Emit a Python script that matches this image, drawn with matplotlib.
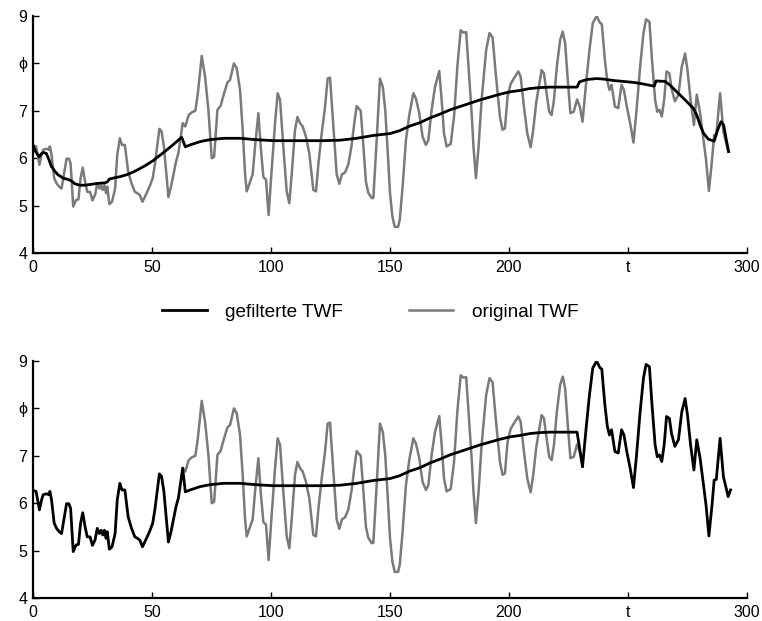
import numpy as np
import matplotlib
matplotlib.use('Agg')
import matplotlib.pyplot as plt

plt.rcParams['font.family'] = ['Liberation Sans', 'DejaVu Sans']

# original TWF (t, phi)
t_orig = np.array([
    0.0, 1.3, 2.7, 3.6, 4.3, 5.7, 6.6, 7.1, 7.8, 8.9, 9.9, 11.0, 12.0, 13.4, 14.1,
    15.1, 15.8, 16.9, 18.1, 19.1, 20.0, 20.9, 21.9, 22.8, 24.0, 25.0, 26.1, 27.0,
    27.9, 28.6, 29.3, 30.0, 30.7, 31.2, 32.1, 33.2, 34.5, 35.4, 36.5, 37.4, 38.6,
    40.0, 41.4, 42.8, 43.9, 44.9, 46.0, 47.7, 49.2, 50.3, 51.2, 53.1, 54.0, 55.0,
    56.9, 58.0, 59.0, 60.1, 61.1, 61.8, 62.9, 64.0, 65.4, 66.8, 68.2, 69.2, 70.9,
    72.3, 73.7, 75.1, 76.1, 77.5, 78.8, 80.3, 81.7, 82.8, 84.4, 85.6, 87.0, 88.1,
    89.1, 89.8, 91.2, 92.3, 93.4, 94.7, 95.7, 96.8, 97.9, 99.0, 100.0, 101.7,
    102.8, 103.8, 105.2, 106.6, 107.7, 108.7, 110.1, 111.1, 112.2, 113.3, 114.7,
    116.1, 117.8, 118.9, 119.9, 121.3, 122.7, 123.8, 124.8, 126.2, 127.6, 128.7,
    129.8, 131.1, 132.5, 133.9, 135.0, 136.0, 137.7, 138.8, 139.9, 140.9, 142.3,
    143.0, 144.4, 145.8, 147.0, 148.0, 149.0, 150.0, 151.0, 152.0, 153.4, 154.1,
    155.3, 156.7, 158.1, 159.8, 160.9, 162.3, 163.7, 165.1, 166.1, 167.5, 168.9,
    170.7, 171.7, 172.7, 173.8, 175.5, 176.9, 178.3, 179.7, 180.8, 182.0, 183.0,
    184.4, 185.1, 186.1, 187.2, 188.5, 190.4, 191.8, 193.1, 194.5, 196.2, 197.3,
    198.3, 199.4, 200.7, 202.5, 203.9, 204.9, 206.3, 207.7, 209.1, 210.2, 211.4,
    212.3, 213.7, 214.7, 215.8, 216.9, 217.9, 218.9, 220.1, 221.5, 222.6, 223.6,
    224.6, 225.8, 227.2, 228.6, 229.8, 230.9, 232.4, 233.8, 235.2, 236.8, 238.2,
    239.0, 240.3, 241.3, 242.2, 243.1, 244.5, 245.9, 247.3, 248.3, 249.5, 250.9,
    252.3, 253.6, 255.1, 256.5, 257.6, 259.0, 260.1, 261.4, 262.3, 263.2, 264.2,
    265.2, 266.2, 267.4, 268.3, 269.7, 271.2, 272.6, 274.0, 275.0, 276.3, 277.7,
    278.9, 280.3, 281.4, 282.8, 284.0, 285.3, 286.2, 287.1, 288.7, 290.1, 292.1,
    293.1])
v_orig = np.array([
    6.27, 6.25, 5.86, 6.07, 6.18, 6.20, 6.18, 6.25, 6.07, 5.58, 5.47, 5.40, 5.36,
    5.78, 5.99, 5.99, 5.89, 4.98, 5.12, 5.13, 5.58, 5.80, 5.50, 5.29, 5.29, 5.11,
    5.23, 5.47, 5.36, 5.43, 5.33, 5.43, 5.26, 5.40, 5.03, 5.08, 5.36, 6.07, 6.42,
    6.28, 6.28, 5.71, 5.47, 5.29, 5.26, 5.22, 5.08, 5.26, 5.43, 5.58, 5.86, 6.62,
    6.57, 6.25, 5.18, 5.40, 5.65, 5.93, 6.11, 6.36, 6.74, 6.67, 6.91, 6.97, 7.00,
    7.34, 8.16, 7.72, 7.02, 6.00, 6.03, 7.02, 7.10, 7.37, 7.60, 7.65, 8.00, 7.90,
    7.44, 6.60, 5.67, 5.30, 5.50, 5.66, 6.30, 6.95, 6.23, 5.60, 5.55, 4.80, 5.55,
    6.74, 7.37, 7.23, 6.23, 5.30, 5.05, 5.66, 6.60, 6.87, 6.74, 6.67, 6.45, 6.10,
    5.33, 5.30, 5.87, 6.52, 7.08, 7.68, 7.70, 6.67, 5.66, 5.46, 5.66, 5.70, 5.87,
    6.28, 6.74, 7.10, 7.00, 6.27, 5.50, 5.27, 5.16, 5.16, 6.38, 7.68, 7.50, 7.02,
    6.17, 5.27, 4.77, 4.55, 4.55, 4.70, 5.40, 6.38, 6.91, 7.37, 7.26, 6.95, 6.45,
    6.28, 6.38, 7.02, 7.50, 7.84, 7.23, 6.52, 6.25, 6.30, 6.87, 7.93, 8.70, 8.65,
    8.66, 7.93, 6.87, 6.23, 5.58, 6.23, 7.23, 8.28, 8.64, 8.55, 7.75, 6.87, 6.60,
    6.63, 7.30, 7.57, 7.72, 7.83, 7.72, 7.08, 6.52, 6.23, 6.60, 7.16, 7.44, 7.86,
    7.79, 7.37, 6.98, 6.91, 7.23, 7.93, 8.50, 8.67, 8.42, 7.72, 6.95, 6.98, 7.24,
    7.08, 6.77, 7.58, 8.28, 8.85, 9.00, 8.86, 8.83, 8.07, 7.63, 7.44, 7.55, 7.09,
    7.06, 7.55, 7.44, 7.09, 6.74, 6.33, 7.02, 7.93, 8.64, 8.93, 8.88, 8.07, 7.23,
    6.98, 7.02, 6.88, 7.23, 7.83, 7.79, 7.47, 7.20, 7.34, 7.93, 8.21, 7.86, 7.23,
    6.70, 7.34, 6.95, 6.52, 5.96, 5.31, 5.96, 6.49, 6.50, 7.37, 6.56, 6.14, 6.28])

# filtered TWF
t_filt = np.array([
    0.1, 1.2, 2.6, 3.6, 4.5, 5.6, 6.7, 7.7, 9.1, 10.5, 12.7, 14.8, 16.2, 17.6,
    19.7, 21.8, 24.6, 27.5, 30.3, 31.2, 32.1, 33.7, 36.5, 39.3, 42.2, 44.9, 47.7,
    50.5, 53.3, 56.1, 59.0, 61.5, 62.5, 64.0, 66.0, 70.2, 74.2, 80.0, 87.0, 94.0,
    101.0, 108.0, 115.0, 122.0, 129.0, 136.0, 143.0, 150.0, 154.0, 158.4, 162.6,
    166.8, 171.0, 175.2, 179.4, 183.6, 187.8, 192.0, 196.2, 200.4, 204.6, 208.8,
    213.0, 217.2, 221.4, 225.6, 228.6, 229.6, 232.6, 236.8, 239.6, 243.8, 248.0,
    252.3, 256.0, 261.0, 261.8, 265.6, 267.7, 270.5, 274.0, 277.5, 278.9, 280.3,
    281.7, 283.8, 286.2, 287.7, 289.1, 290.2, 291.3, 292.3])
v_filt = np.array([
    6.26, 6.13, 6.03, 6.10, 6.12, 6.10, 5.97, 5.83, 5.73, 5.65, 5.58, 5.55, 5.52,
    5.46, 5.43, 5.43, 5.45, 5.47, 5.48, 5.50, 5.56, 5.58, 5.61, 5.65, 5.71, 5.78,
    5.86, 5.95, 6.06, 6.17, 6.29, 6.40, 6.44, 6.24, 6.28, 6.35, 6.39, 6.42, 6.42,
    6.39, 6.37, 6.37, 6.37, 6.37, 6.38, 6.42, 6.48, 6.52, 6.58, 6.68, 6.75, 6.85,
    6.93, 7.02, 7.09, 7.16, 7.23, 7.29, 7.35, 7.40, 7.43, 7.47, 7.49, 7.50, 7.50,
    7.50, 7.50, 7.61, 7.66, 7.68, 7.67, 7.64, 7.62, 7.60, 7.57, 7.52, 7.63, 7.62,
    7.54, 7.40, 7.23, 7.05, 6.91, 6.70, 6.53, 6.40, 6.36, 6.60, 6.77, 6.70, 6.39,
    6.14])

x_ticks = [0, 50, 100, 150, 200, 250, 300]
x_labels = ['0', '50', '100', '150', '200', 't', '300']
y_ticks = [4, 5, 6, 7, 8, 9]
y_labels = ['4', '5', '6', '7', '\u03d5', '9']

gray = '#7a7a7a'

fig = plt.figure(figsize=(7.62, 6.21), dpi=100)
ax1 = fig.add_axes([0.0433, 0.5926, 0.937, 0.3816])
ax2 = fig.add_axes([0.0433, 0.0370, 0.937, 0.3816])

# top: original + filtered
m_top = t_orig <= 292.5
ax1.plot(t_orig[m_top], v_orig[m_top], color=gray, lw=1.8)
ax1.plot(t_filt, v_filt, color='black', lw=2.0)

# bottom: filtered only in the middle part, original at the edges
m_start = t_orig <= 63
m_mid = (t_filt >= 64) & (t_filt <= 228.6)
m_end = t_orig >= 230.9
t_bot = np.concatenate([t_orig[m_start], t_filt[m_mid], t_orig[m_end]])
v_bot = np.concatenate([v_orig[m_start], v_filt[m_mid], v_orig[m_end]])
m_gray = (t_orig >= 62.9) & (t_orig <= 230.9)
ax2.plot(t_orig[m_gray], v_orig[m_gray], color=gray, lw=1.8)
ax2.plot(t_bot, v_bot, color='black', lw=2.0)

for ax in (ax1, ax2):
    ax.set_xlim(0, 300)
    ax.set_ylim(4, 9)
    ax.set_xticks(x_ticks)
    ax.set_xticklabels(x_labels)
    ax.set_yticks(y_ticks)
    ax.set_yticklabels(y_labels)
    ax.spines['top'].set_visible(False)
    ax.spines['right'].set_visible(False)
    ax.spines['left'].set_linewidth(1.6)
    ax.spines['bottom'].set_linewidth(1.6)
    ax.tick_params(direction='in', length=4.5, width=1, labelsize=11.5, pad=4)
    ax.tick_params(axis='x', pad=5)

# legend between panels
h1, = ax1.plot([], [], color='black', lw=2.0)
h2, = ax1.plot([], [], color=gray, lw=1.8)
fig.legend([h1, h2], ['gefilterte TWF', 'original TWF'], loc='center',
           bbox_to_anchor=(0.4856, 0.4976), ncol=2, frameon=False, fontsize=13.7,
           handlelength=2.36, handletextpad=0.95, columnspacing=3.46)

fig.savefig('out.png', dpi=100)
